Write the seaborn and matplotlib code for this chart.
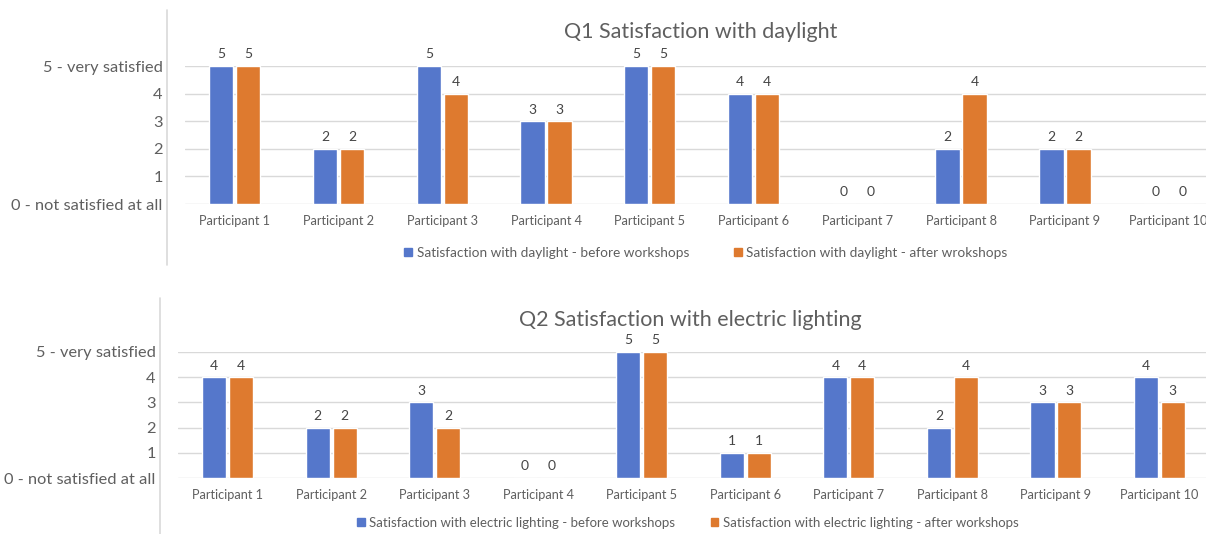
import matplotlib
matplotlib.use("Agg")
import matplotlib.pyplot as plt
from matplotlib.lines import Line2D
import pandas as pd
import seaborn as sns

participants = [f"Participant {i}" for i in range(1, 11)]
ytick_labels = ["0 - not satisfied at all", "1", "2", "3", "4", "5 - very satisfied"]

q1_title = "Q1 Satisfaction with daylight"
q1_series = ["Satisfaction with daylight - before workshops",
             "Satisfaction with daylight - after wrokshops"]
q1_before = [5, 2, 5, 3, 5, 4, 0, 2, 2, 0]
q1_after = [5, 2, 4, 3, 5, 4, 0, 4, 2, 0]

q2_title = "Q2 Satisfaction with electric lighting"
q2_series = ["Satisfaction with electric lighting - before workshops",
             "Satisfaction with electric lighting - after workshops"]
q2_before = [4, 2, 3, 0, 5, 1, 4, 2, 3, 4]
q2_after = [4, 2, 2, 0, 5, 1, 4, 4, 3, 3]

colors = ["#5577CB", "#DE7A2F"]
text_gray = "#5F5F5F"

sns.set_theme(style="white")
plt.rcParams["font.family"] = ["Lato", "DejaVu Sans"]

W, H = 1206, 534
fig = plt.figure(figsize=(W / 100, H / 100), dpi=100)


def frac(x0, y_top, x1, y_bottom):
    return [x0 / W, 1 - y_bottom / H, (x1 - x0) / W, (y_bottom - y_top) / H]


def panel(rect, title, title_xy, series, before, after, legend_xy, xlim,
          legend_fs, colspace):
    ax = fig.add_axes(rect)
    df = pd.DataFrame({
        "Participant": participants * 2,
        "Series": [series[0]] * 10 + [series[1]] * 10,
        "Score": before + after,
    })
    sns.barplot(data=df, x="Participant", y="Score", hue="Series",
                palette=colors, width=0.52, gap=0.1, ax=ax,
                saturation=1, legend=False)
    for cont in ax.containers:
        ax.bar_label(cont, fmt="%d", padding=4, fontsize=10,
                     color="#454545", clip_on=False)
    ax.set_ylim(0, 5)
    ax.set_xlim(*xlim)
    ax.set_yticks(range(6))
    ax.set_yticklabels(ytick_labels, fontsize=11.8, color=text_gray)
    ax.tick_params(axis="y", length=0, pad=16)
    ax.tick_params(axis="x", length=0, pad=8, labelsize=9.2,
                   labelcolor=text_gray)
    ax.set_xlabel("")
    ax.set_ylabel("")
    for s in ax.spines.values():
        s.set_visible(False)
    ax.yaxis.grid(True, color="#D9D9D9", linewidth=1)
    ax.set_axisbelow(True)
    for lab in ax.get_yticklabels():
        lab.set_clip_on(False)

    fig.text(title_xy[0] / W, 1 - title_xy[1] / H, title, ha="center",
             va="center", fontsize=15.5, color=text_gray)

    handles = [plt.Rectangle((0, 0), 1, 1, color=c) for c in colors]
    fig.legend(handles, series, loc="center",
               bbox_to_anchor=(legend_xy[0] / W, 1 - legend_xy[1] / H),
               ncol=2, frameon=False, fontsize=legend_fs,
               labelcolor=text_gray,
               handlelength=0.55, handleheight=0.55, handletextpad=0.35,
               columnspacing=colspace)
    return ax


panel(frac(185, 66, 1206, 204), q1_title, (701, 32), q1_series,
      q1_before, q1_after, (706, 253), (-0.48, 9.36), 9.8, 3.3)
panel(frac(178, 352, 1206, 478), q2_title, (690, 320), q2_series,
      q2_before, q2_after, (688, 523), (-0.48, 9.45), 9.5, 2.7)

# vertical separators on the left of each panel
fig.add_artist(Line2D([167 / W, 167 / W], [1 - 10 / H, 1 - 265 / H],
                      color="#D9D9D9", linewidth=1.2))
fig.add_artist(Line2D([160 / W, 160 / W], [1 - 298 / H, 0],
                      color="#D9D9D9", linewidth=1.2))

fig.savefig("out.png", dpi=100, facecolor="white")
